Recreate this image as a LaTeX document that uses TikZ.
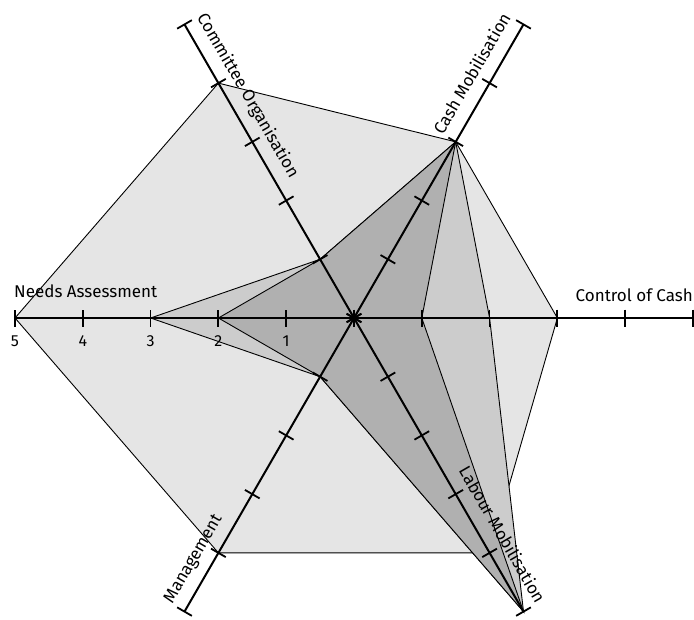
\documentclass[tikz,border=0pt]{standalone}
\usepackage{fontspec}
\setmainfont{Fira Sans}
\begin{document}
\begin{tikzpicture}[x=1pt,y=1pt,
  axisline/.style={line width=2pt, draw=black},
  tickmark/.style={line width=1.8pt, draw=black},
  polyA/.style={fill=black!10, draw=black, line width=0.9pt},
  polyB/.style={fill=black!20, draw=black, line width=0.9pt},
  polyC/.style={fill=black!31, draw=black, line width=0.9pt},
  axlabel/.style={font=\fontsize{17}{20}\selectfont, inner sep=0pt},
  numlabel/.style={font=\fontsize{16}{19}\selectfont, inner sep=0pt},
]
\def\u{67.8}
\useasboundingbox (-354,-301) rectangle (340,318);
\foreach \n/\a in {ctrl/0,cash/60,comm/120,need/180,mgmt/240,lab/300} {
  \foreach \j in {0,...,5} { \coordinate (\n\j) at (\a:{\j*\u}); }
}
% data polygons
\draw[polyA] (ctrl3) -- (cash3) -- (comm4) -- (need5) -- (mgmt4) -- (lab4) -- cycle;
\draw[polyB] (ctrl2) -- (cash3) -- (comm1) -- (need3) -- (mgmt1) -- (lab5) -- cycle;
\draw[polyC] (ctrl1) -- (cash3) -- (comm1) -- (need2) -- (mgmt1) -- (lab5) -- cycle;
% axes
\draw[axisline] (need5) -- (ctrl5);
\draw[axisline] (comm5) -- (lab5);
\draw[axisline] (cash5) -- (mgmt5);
\foreach \n/\a in {ctrl/0,cash/60,comm/120,need/180,mgmt/240,lab/300} {
  \foreach \j in {0,...,5} {
    \draw[tickmark] (\n\j) ++(\a+90:8.5) -- ++(\a-90:17);
  }
}
% labels
\node[axlabel, anchor=base west] (lneed) at (-340,21) {Needs Assessment};
\node[axlabel, anchor=base east] (lctrl) at (339,17) {Control of Cash};
\node[axlabel, rotate=60, anchor=base east] (lcash) at ([shift={(150:14)}]cash5) {Cash Mobilisation};
\node[axlabel, rotate=-60, anchor=base west] (lcomm) at ([shift={(30:14)}]comm5) {Committee Organisation};
\node[axlabel, rotate=-60, anchor=base east] (llab) at ([shift={(30:14)}]lab5) {Labour Mobilisation};
\node[axlabel, rotate=60, anchor=base west] (lmgmt) at ([shift={(150:14)}]mgmt5) {Management};
\foreach \j in {1,...,5} {
  \node[numlabel, anchor=base] (num\j) at ([yshift=-28]need\j) {\j};
}
\end{tikzpicture}
\end{document}
